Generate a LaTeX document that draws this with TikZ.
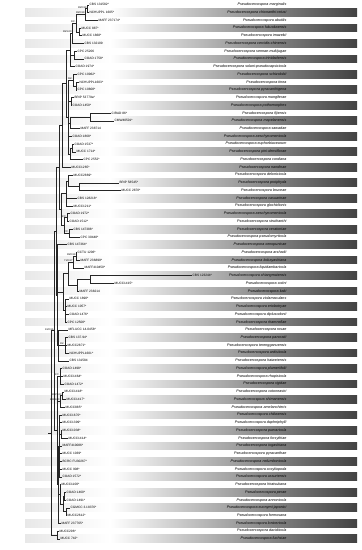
\documentclass[tikz,border=0pt]{standalone}
\usepackage{fontspec}
\setmainfont{Liberation Sans}
\pgfmathdeclarefunction{ry}{1}{\pgfmathparse{4.7+(#1-1)*7.74}}
\tikzset{
 br/.style={draw=black!85, line width=0.4pt},
 strain/.style={anchor=west, inner sep=0.4pt, font=\fontsize{3.2}{3.6}\selectfont\upshape},
 species/.style={anchor=east, inner sep=0.4pt, font=\fontsize{3.7}{4.2}\selectfont\itshape},
 supp/.style={anchor=south east, inner sep=0.3pt, font=\fontsize{2.5}{3}\selectfont}
}
\newcommand\Tip[3]{\node[strain] (t#1) at (#2,{ry(#1)}) {#3};}
\newcommand\Sp[2]{\node[species] (s#1) at (287,{ry(#1)}) {Pseudocercospora #2};}
\newcommand\Nd[3]{\coordinate (#1) at (#2,{ry(#3)});}
\begin{document}
\begin{tikzpicture}[x=1pt,y=-1pt]
\useasboundingbox (0,0) rectangle (362,550);
\fill[white] (0,0) rectangle (362,550);
% shaded bands
\foreach \r in {2,4,...,70}{
  \fill[left color=black!9, right color=white] (25,{ry(\r)-3.87}) rectangle (110,{ry(\r)+3.87});
  \fill[left color=white, right color=black!74] (110,{ry(\r)-3.87}) rectangle (357,{ry(\r)+3.87});
}
% tips
\Tip{1}{89}{CBS 131582*}\Tip{2}{89}{NCHUPPL 1605*}\Tip{3}{98}{MAFF 237174*}
\Tip{4}{81}{MUCC 887*}\Tip{5}{82}{MUCC 1868*}\Tip{6}{84}{CBS 132109}
\Tip{7}{77}{CPC 25206}\Tip{8}{84}{COAD 1758*}\Tip{9}{75}{COAD 1974*}
\Tip{10}{77}{CPC 10962*}\Tip{11}{79}{NCHUPPL1603*}\Tip{12}{77}{CPC 10808*}
\Tip{13}{74}{BRIP 53779a*}\Tip{14}{72}{COAD 1450*}\Tip{15}{111}{CIRAD 86*}
\Tip{16}{114}{CMW40501*}\Tip{17}{80}{MAFF 238714}\Tip{18}{72}{COAD 1868*}
\Tip{19}{74}{COAD 1537*}\Tip{20}{76}{MUCC 1714*}\Tip{21}{83}{CPC 2552*}
\Tip{22}{71}{MUCC1265*}\Tip{23}{73}{MUCC2869*}\Tip{24}{119}{BRIP 58545*}
\Tip{25}{121}{MUCC 2870*}\Tip{26}{77}{CBS 128218*}\Tip{27}{73}{MUCC1211*}
\Tip{28}{70}{COAD 1972*}\Tip{29}{69}{COAD 1512*}\Tip{30}{73}{CBS 147386*}
\Tip{31}{80}{CPC 30448*}\Tip{32}{67}{CBS 147364*}\Tip{33}{77}{CCTU 1206*}
\Tip{34}{80}{MAFF 236899*}\Tip{35}{84}{MAFF410450*}\Tip{36}{192}{CBS 123244*}
\Tip{37}{114}{MUCC1415*}\Tip{38}{79}{MAFF 238214}\Tip{39}{69}{MUCC 1890*}
\Tip{40}{67}{MUCC 1057*}\Tip{41}{69}{COAD 1476*}\Tip{42}{67}{CPC 12500*}
\Tip{43}{68}{MFLUCC 14-0458*}\Tip{44}{68}{CBS 137.94*}\Tip{45}{67}{MUCC2871*}
\Tip{46}{69}{NCHUPPL1601*}\Tip{47}{69}{CBS 131584}\Tip{48}{62}{COAD 1498*}
\Tip{49}{63}{MUCC1464*}\Tip{50}{64}{COAD 1472*}\Tip{51}{64}{MUCC1418*}
\Tip{52}{66}{MUCC1417*}\Tip{53}{65}{MUCC885*}\Tip{54}{62}{MUCC1670*}
\Tip{55}{62}{MUCC1399*}\Tip{56}{62}{MUCC1038*}\Tip{57}{68}{MUCC1414*}
\Tip{58}{62}{MAFF410086*}\Tip{59}{62}{MUCC 1039*}\Tip{60}{62}{BCRC FU30267*}
\Tip{61}{62}{MUCC 908*}\Tip{62}{62}{COAD 1572*}\Tip{63}{61}{MUCC1100*}
\Tip{64}{66}{COAD 1460*}\Tip{65}{66}{COAD 1491*}\Tip{66}{70}{CGMCC 3.18376*}
\Tip{67}{67}{MUCC2612*}\Tip{68}{61}{MAFF 237765*}\Tip{69}{59}{MUCC296*}
\Tip{70}{60}{MUCC 742*}
% species
\Sp{1}{marginalis}\Sp{2}{chionanthi-retusi}\Sp{3}{abutilis}\Sp{4}{fukuokaensis}
\Sp{5}{imazekii}\Sp{6}{cercidis-chinensis}\Sp{7}{sennae-multijugae}\Sp{8}{trinidadensis}
\Sp{9}{solani-pseudocapsicicola}\Sp{10}{schizolobii}\Sp{11}{tinea}\Sp{12}{pyracanthigena}
\Sp{13}{mangiferae}\Sp{14}{pothomorphes}\Sp{15}{fijiensis}\Sp{16}{mapelanensis}
\Sp{17}{sawadae}\Sp{18}{aeschynomenicola}\Sp{19}{euphorbiacearum}\Sp{20}{pini-densiflorae}
\Sp{21}{cordiana}\Sp{22}{nandinae}\Sp{23}{delonicicola}\Sp{24}{proiphyda}
\Sp{25}{bruceae}\Sp{26}{casuarinae}\Sp{27}{glochidionis}\Sp{28}{aeschynomenicola}
\Sp{29}{struthanthi}\Sp{30}{ceratoniae}\Sp{31}{pseudomyrticola}\Sp{32}{xenopunicae}
\Sp{33}{arshadii}\Sp{34}{kobayashiana}\Sp{35}{liquidambaricola}\Sp{36}{chiangmaiensis}
\Sp{37}{cotini}\Sp{38}{kaki}\Sp{39}{violamaculans}\Sp{40}{eriobotryae}
\Sp{41}{diplusodonii}\Sp{42}{rhamnellae}\Sp{43}{rosae}\Sp{44}{pancratii}
\Sp{45}{terengganuensis}\Sp{46}{ardisiicola}\Sp{47}{haiweiensis}\Sp{48}{plumeriifolii}
\Sp{49}{rhapisicola}\Sp{50}{rigidae}\Sp{51}{cotoneastri}\Sp{52}{shimanensis}
\Sp{53}{amelanchieris}\Sp{54}{chibaensis}\Sp{55}{daphniphylli}\Sp{56}{pueraricola}
\Sp{57}{forsythiae}\Sp{58}{togashiana}\Sp{59}{pyracanthae}\Sp{60}{nelumbonicola}
\Sp{61}{cocyliopoda}\Sp{62}{ussuriensis}\Sp{63}{hiratsukana}\Sp{64}{perae}
\Sp{65}{annonicola}\Sp{66}{euonymi-japonici}\Sp{67}{formosana}\Sp{68}{lonicericola}
\Sp{69}{davidiicola}\Sp{70}{fuchsiae}
% internal nodes
\Nd{a1}{87}{1.5}\Nd{a2}{85}{2.25}\Nd{a3}{79}{4.5}\Nd{a4}{76}{3.375}\Nd{a5}{72}{4.69}
\Nd{a6}{74}{7.5}\Nd{a7}{70}{6.84}\Nd{a8}{76}{11.5}\Nd{a9}{73}{10.75}\Nd{a10}{71}{13.5}
\Nd{a11}{90}{15.5}\Nd{a12}{70}{16.25}\Nd{a13}{72}{19.5}\Nd{a14}{70}{20.25}
\Nd{a15}{68}{15.5}\Nd{a16}{66}{11.17}\Nd{a17}{62}{16.6}
\Nd{b1a}{79}{24.5}\Nd{b1}{68}{23.75}\Nd{b2}{66}{25.4}\Nd{b3}{67}{28.5}\Nd{b4}{69}{30.5}
\Nd{b5}{64}{29.5}\Nd{b6}{61}{27.45}\Nd{b7}{59}{22}
\Nd{c1}{76}{33.5}\Nd{c2}{73}{34.25}\Nd{c3}{90}{36.5}\Nd{c4}{77}{37.25}\Nd{c5}{68}{35.75}
\Nd{c6}{65}{40.5}\Nd{c7}{63}{38.1}\Nd{c8}{65}{45}\Nd{c9}{58}{45}\Nd{c10}{57}{38.5}
\Nd{U}{56}{30.25}
\Nd{e1}{60}{49}\Nd{e2a}{62}{51.5}\Nd{e2b}{60}{52.25}\Nd{e3a}{61}{56.5}\Nd{e3}{59}{58}
\Nd{e4}{64}{64.5}\Nd{e5}{66}{66.5}\Nd{e6}{63}{65.5}\Nd{e7}{60}{64.25}\Nd{e8}{58}{63}
\Nd{e9}{57}{56}\Nd{P}{54}{43.1}\Nd{f1}{57}{69.5}\Nd{R}{51.5}{56.3}\Nd{root0}{48}{56.3}
% branches
\foreach \p/\c in {a1/t1.west,a1/t2.west,a2/a1,a2/t3.west,a3/t4.west,a3/t5.west,a4/a2,a4/a3,
 a5/a4,a5/t6.west,a6/t7.west,a6/t8.west,a7/a5,a7/a6,a7/t9.west,a8/t11.west,a8/t12.west,
 a9/t10.west,a9/a8,a10/t13.west,a10/t14.west,a11/t15.west,a11/t16.west,a12/a11,a12/t17.west,
 a13/t19.west,a13/t20.west,a14/a13,a14/t21.west,a15/a9,a15/a10,a15/a12,a15/t18.west,a15/a14,
 a16/a7,a16/a15,a17/a16,a17/t22.west,
 b1a/t24.west,b1a/t25.west,b1/t23.west,b1/b1a,b2/b1,b2/t26.west,b2/t27.west,b3/t28.west,
 b3/t29.west,b4/t30.west,b4/t31.west,b5/b3,b5/b4,b6/b2,b6/b5,b7/a17,b7/b6,
 c1/t33.west,c1/t34.west,c2/c1,c2/t35.west,c3/t36.west,c3/t37.west,c4/c3,c4/t38.west,
 c5/c2,c5/c4,c6/t39.west,c6/t40.west,c6/t41.west,c6/t42.west,c7/c5,c7/c6,c8/t44.west,
 c8/t45.west,c8/t46.west,c9/t43.west,c9/c8,c9/t47.west,c10/t32.west,c10/c7,c10/c9,U/b7,U/c10,
 e1/t48.west,e1/t49.west,e1/t50.west,e2a/t51.west,e2a/t52.west,e2b/e2a,e2b/t53.west,
 e3a/t56.west,e3a/t57.west,e3/t54.west,e3/t55.west,e3/e3a,e3/t58.west,e3/t59.west,
 e3/t60.west,e3/t61.west,e3/t62.west,e4/t64.west,e4/t65.west,e5/t66.west,e5/t67.west,
 e6/e4,e6/e5,e7/t63.west,e7/e6,e8/e3,e8/e7,e8/t68.west,e9/e1,e9/e2b,e9/e8,P/U,P/e9,
 f1/t69.west,f1/t70.west,R/P,R/f1}
 {\draw[br] (\p) |- (\c);}
\draw[br] (root0) -- (R);
% support values
\node[supp] (l1) at (a1) {99/0.99};
\node[supp] (l2) at (a2) {99/0.99};
\node[supp] (l3) at (a4) {92/-};
\node[supp] (l4) at (a5) {99/1.00};
\node[supp] (l5) at (a9) {96/-};
\node[supp] (l6) at (b3) {87/-};
\node[supp] (l7) at (b4) {97/-};
\node[supp] (l8) at (c1) {99/0.99};
\node[supp] (l9) at (c2) {71/0.97};
\node[supp] (l10) at (c8) {99/-};
\node[supp] (l11) at (e1) {97/-};
\node[supp] (l12) at (e2a) {100/1.00};
\node[supp] (l13) at (e2b) {100/1.00};
\node[supp] (l14) at (P) {91/0.96};
\end{tikzpicture}
\end{document}
